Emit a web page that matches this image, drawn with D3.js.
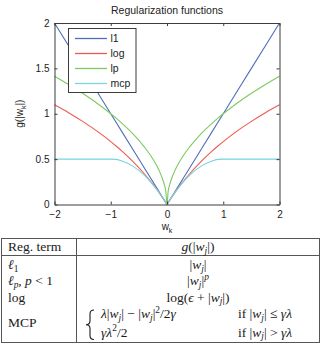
<!DOCTYPE html>
<html>
<head>
<meta charset="utf-8">
<script src="https://cdn.jsdelivr.net/npm/d3@7"></script>
<style>
  body { margin: 0; background: #fff; }
</style>
</head>
<body>
<script>
// Values
const wValues = [-2, -1.75, -1.5, -1.25, -1, -0.9, -0.8, -0.6, -0.4, -0.3, -0.2, -0.1, -0.05, -0.02, 0,
  0.02, 0.05, 0.1, 0.2, 0.3, 0.4, 0.6, 0.8, 0.9, 1, 1.25, 1.5, 1.75, 2]
const l1Values = [2, 1.75, 1.5, 1.25, 1, 0.9, 0.8, 0.6, 0.4, 0.3, 0.2, 0.1, 0.05, 0.02, 0,
  0.02, 0.05, 0.1, 0.2, 0.3, 0.4, 0.6, 0.8, 0.9, 1, 1.25, 1.5, 1.75, 2]
const logValues = [1.099, 1.012, 0.916, 0.811, 0.693, 0.642, 0.588, 0.47, 0.336, 0.262, 0.182, 0.095, 0.049, 0.02, 0,
  0.02, 0.049, 0.095, 0.182, 0.262, 0.336, 0.47, 0.588, 0.642, 0.693, 0.811, 0.916, 1.012, 1.099]
const lpValues = [1.414, 1.323, 1.225, 1.118, 1, 0.949, 0.894, 0.775, 0.632, 0.548, 0.447, 0.316, 0.224, 0.141, 0,
  0.141, 0.224, 0.316, 0.447, 0.548, 0.632, 0.775, 0.894, 0.949, 1, 1.118, 1.225, 1.323, 1.414]
const mcpValues = [0.5, 0.5, 0.5, 0.5, 0.5, 0.497, 0.48, 0.42, 0.32, 0.255, 0.18, 0.095, 0.049, 0.02, 0,
  0.02, 0.049, 0.095, 0.18, 0.255, 0.32, 0.42, 0.48, 0.497, 0.5, 0.5, 0.5, 0.5, 0.5]

const seriesNames = ['l1', 'log', 'lp', 'mcp']
const seriesColors = ['#4f6db8', '#eb5a50', '#7dca5f', '#78d4e0']
const xTicks = [-2, -1, 0, 1, 2]
const yTicks = [0, 0.5, 1, 1.5, 2]

// Table contents: [text, kind] where kind is r(oman), i(talic), sub, subi, sup
const tableHeads = [[['Reg. term', 'r']], [['g', 'i'], ['(|', 'r'], ['w', 'i'], ['j', 'subi'], ['|)', 'r']]]
const termLabels = [
  [['ℓ', 'i'], ['1', 'sub']],
  [['ℓ', 'i'], ['p', 'subi'], [', ', 'r'], ['p', 'i'], [' < 1', 'r']],
  [['log', 'r']],
  [['MCP', 'r']]
]
const termFormulas = [
  [['|', 'r'], ['w', 'i'], ['j', 'subi'], ['|', 'r']],
  [['|', 'r'], ['w', 'i'], ['j', 'subi'], ['|', 'r'], ['p', 'supi']],
  [['log(', 'r'], ['ϵ', 'i'], [' + |', 'r'], ['w', 'i'], ['j', 'subi'], ['|)', 'r']]
]
const mcpCases = [
  [[['λ', 'i'], ['|', 'r'], ['w', 'i'], ['j', 'subi'], ['| − |', 'r'], ['w', 'i'], ['j', 'subi'], ['|', 'r'], ['2', 'sup'], ['/2', 'r'], ['γ', 'i']],
   [['if |', 'r'], ['w', 'i'], ['j', 'subi'], ['| ≤ ', 'r'], ['γλ', 'i']]],
  [[['γλ', 'i'], ['2', 'sup'], ['/2', 'r']],
   [['if |', 'r'], ['w', 'i'], ['j', 'subi'], ['| > ', 'r'], ['γλ', 'i']]]
]

const width = 326, height = 344
const plot = {left: 54.5, right: 279.5, top: 23, bottom: 204.5}
const sansFont = '"Liberation Sans", Arial, Helvetica, sans-serif'
const serifFont = '"Liberation Serif", "Times New Roman", "DejaVu Serif", serif'
const axisColor = '#3c3c3c'

const svg = d3.select('body').append('svg')
  .attr('width', width)
  .attr('height', height)
  .style('font-family', sansFont)

const xScale = d3.scaleLinear().domain([-2, 2]).range([plot.left, plot.right])
const yScale = d3.scaleLinear().domain([0, 2]).range([plot.bottom, plot.top])

// Title
svg.append('text')
  .attr('x', (plot.left + plot.right) / 2)
  .attr('y', 14)
  .attr('text-anchor', 'middle')
  .style('font-size', '10.5px')
  .style('fill', '#222')
  .text('Regularization functions')

// Series lines
const seriesValues = [l1Values, logValues, lpValues, mcpValues]
const gLines = svg.append('g')
seriesValues.forEach((vals, i) => {
  const pts = wValues.map((w, j) => [w, vals[j]])
  const line = d3.line()
    .curve(i === 0 ? d3.curveLinear : d3.curveMonotoneX)
    .x(d => xScale(d[0]))
    .y(d => yScale(d[1]))
  gLines.append('path')
    .attr('d', line(pts))
    .style('fill', 'none')
    .style('stroke', seriesColors[i])
    .style('stroke-width', 1.1)
})

// Axes (box with inward ticks)
const fmt = d3.format('~g')
function styleAxis(g) {
  g.select('.domain').style('stroke', axisColor)
  g.selectAll('.tick line').style('stroke', axisColor)
  g.selectAll('.tick text').style('fill', '#222').style('font-size', '10px').style('font-family', sansFont)
}
svg.append('g')
  .attr('transform', `translate(0,${plot.bottom})`)
  .call(d3.axisBottom(xScale).tickValues(xTicks).tickFormat(fmt).tickSizeInner(-3).tickSizeOuter(0).tickPadding(6))
  .call(styleAxis)
svg.append('g')
  .attr('transform', `translate(0,${plot.top})`)
  .call(d3.axisTop(xScale).tickValues(xTicks).tickFormat('').tickSizeInner(-3).tickSizeOuter(0))
  .call(styleAxis)
svg.append('g')
  .attr('transform', `translate(${plot.left},0)`)
  .call(d3.axisLeft(yScale).tickValues(yTicks).tickFormat(fmt).tickSizeInner(-3).tickSizeOuter(0).tickPadding(5))
  .call(styleAxis)
svg.append('g')
  .attr('transform', `translate(${plot.right},0)`)
  .call(d3.axisRight(yScale).tickValues(yTicks).tickFormat('').tickSizeInner(-3).tickSizeOuter(0))
  .call(styleAxis)

// Axis labels
const xLabel = svg.append('text')
  .attr('x', xScale(0))
  .attr('y', 229.5)
  .attr('text-anchor', 'middle')
  .style('font-size', '10px')
  .style('fill', '#222')
xLabel.append('tspan').text('w')
xLabel.append('tspan').attr('dy', 3).style('font-size', '7px').text('k')

const yLabel = svg.append('text')
  .attr('transform', `translate(23,${yScale(1)}) rotate(-90)`)
  .attr('text-anchor', 'middle')
  .style('font-size', '10px')
  .style('fill', '#222')
yLabel.append('tspan').text('g(|w')
yLabel.append('tspan').attr('dy', 3).style('font-size', '7px').text('k')
yLabel.append('tspan').attr('dy', -3).text('|)')

// Legend
const legend = svg.append('g')
legend.append('rect')
  .attr('x', 68.5).attr('y', 28.5)
  .attr('width', 67.5).attr('height', 64)
  .style('fill', '#fff')
  .style('stroke', axisColor)
seriesNames.forEach((name, i) => {
  const ly = 38.5 + i * 15
  legend.append('line')
    .attr('x1', 75).attr('x2', 107)
    .attr('y1', ly).attr('y2', ly)
    .style('stroke', seriesColors[i])
    .style('stroke-width', 1.3)
  legend.append('text')
    .attr('x', 110.5).attr('y', ly)
    .attr('dy', '0.35em')
    .style('font-size', '10.5px')
    .style('fill', '#222')
    .text(name)
})

// Table
function addMath(text, segs, size) {
  let shift = 0
  segs.forEach(([t, k]) => {
    const isSub = k.startsWith('sub'), isSup = k.startsWith('sup')
    const target = isSub ? size * 0.22 : isSup ? -size * 0.38 : 0
    const ts = text.append('tspan').attr('dy', target - shift).text(t)
    shift = target
    if (k.endsWith('i')) ts.style('font-style', 'italic')
    if (isSub || isSup) ts.style('font-size', (size * 0.7) + 'px')
  })
}

const table = {left: 1.5, right: 319.5, top: 238.5, headBottom: 255.5, bottom: 342.5, divider: 76.5}
const tSize = 13.5
const gTable = svg.append('g')
  .style('font-family', serifFont)
  .style('font-size', tSize + 'px')
  .style('fill', '#1a1a1a')

gTable.append('rect')
  .attr('x', table.left).attr('y', table.top)
  .attr('width', table.right - table.left).attr('height', table.bottom - table.top)
  .style('fill', 'none').style('stroke', '#555')
gTable.append('line')
  .attr('x1', table.left).attr('x2', table.right)
  .attr('y1', table.headBottom).attr('y2', table.headBottom)
  .style('stroke', '#555')
gTable.append('line')
  .attr('x1', table.divider).attr('x2', table.divider)
  .attr('y1', table.top).attr('y2', table.bottom)
  .style('stroke', '#555')

const colCenter = (table.divider + table.right) / 2
addMath(gTable.append('text').attr('x', 8).attr('y', 251), tableHeads[0], tSize)
addMath(gTable.append('text').attr('x', colCenter).attr('y', 251).attr('text-anchor', 'middle'), tableHeads[1], tSize)

const rowBase = [269, 285, 301.5, 326.5]
termLabels.forEach((segs, i) => {
  addMath(gTable.append('text').attr('x', 8).attr('y', rowBase[i]), segs, tSize)
})
termFormulas.forEach((segs, i) => {
  addMath(gTable.append('text').attr('x', colCenter).attr('y', rowBase[i]).attr('text-anchor', 'middle'), segs, tSize)
})

// MCP cases with a left brace
const caseBase = [318, 336.5]
const bx = 92, bTop = caseBase[0] - 8, bBot = caseBase[1] + 3, bMid = (bTop + bBot) / 2
const brace = d3.path()
brace.moveTo(bx + 2, bTop)
brace.quadraticCurveTo(bx - 2, bTop, bx - 2, bTop + 4)
brace.lineTo(bx - 2, bMid - 4)
brace.quadraticCurveTo(bx - 2, bMid, bx - 6, bMid)
brace.quadraticCurveTo(bx - 2, bMid, bx - 2, bMid + 4)
brace.lineTo(bx - 2, bBot - 4)
brace.quadraticCurveTo(bx - 2, bBot, bx + 2, bBot)
gTable.append('path')
  .attr('d', brace.toString())
  .style('fill', 'none')
  .style('stroke', '#1a1a1a')
  .style('stroke-width', 1.1)
mcpCases.forEach(([expr, cond], i) => {
  addMath(gTable.append('text').attr('x', 101).attr('y', caseBase[i]), expr, tSize)
  addMath(gTable.append('text').attr('x', 238).attr('y', caseBase[i]), cond, tSize)
})
</script>
</body>
</html>
